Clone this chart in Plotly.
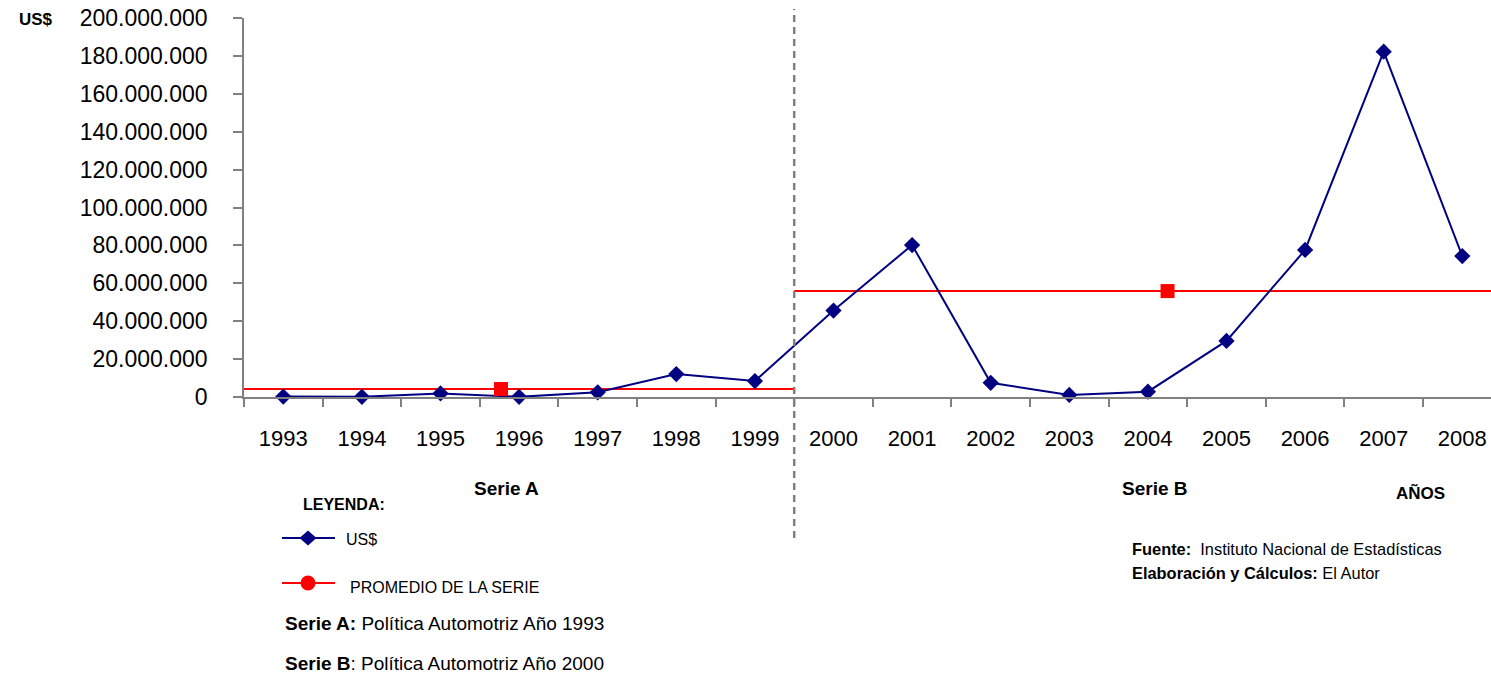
import plotly.graph_objects as go

# Annual values in US$
anios = [1993, 1994, 1995, 1996, 1997, 1998, 1999, 2000,
         2001, 2002, 2003, 2004, 2005, 2006, 2007, 2008]
valores_usd = [200_000, 100_000, 1_900_000, 100_000, 2_500_000, 12_100_000,
               8_400_000, 45_600_000, 80_200_000, 7_500_000, 1_100_000,
               2_800_000, 29_600_000, 77_600_000, 182_200_000, 74_400_000]

# Series averages (Serie A: 1993-1999, Serie B: 2000-2008)
series = ["Serie A", "Serie B"]
serie_inicio = [1993, 2000]
serie_fin = [1999, 2008]
promedio_valores = [4_200_000, 55_900_000]
promedio_marca_anio = [1995.77, 2004.25]

y_ticks = [0, 20_000_000, 40_000_000, 60_000_000, 80_000_000, 100_000_000,
           120_000_000, 140_000_000, 160_000_000, 180_000_000, 200_000_000]

FONT = "Liberation Sans, Arial, sans-serif"
NAVY = "#000080"
RED = "#FF0000"
GRAY = "#808080"

# Figure geometry (pixels)
FIG_W, FIG_H = 1491, 676
L, R, T, B = 244, 0, 18, 279
PW = FIG_W - L - R
PH = FIG_H - T - B
CAT_PX = 78.6  # width of one year on the x axis


def px(x):
    return (x - L) / PW


def py(y):
    return (FIG_H - B - y) / PH


fig = go.Figure()

# Average lines for each series
for ini, fin, val in zip(serie_inicio, serie_fin, promedio_valores):
    fig.add_trace(go.Scatter(
        x=[ini - 0.5, fin + 0.5], y=[val, val], mode="lines",
        line=dict(color=RED, width=2), showlegend=False, hoverinfo="skip"))

# Main series
fig.add_trace(go.Scatter(
    x=anios, y=valores_usd, mode="lines+markers",
    line=dict(color=NAVY, width=2),
    marker=dict(symbol="diamond", size=12.5, color=NAVY),
    cliponaxis=False, showlegend=False, name="US$"))

# Average markers
fig.add_trace(go.Scatter(
    x=promedio_marca_anio, y=promedio_valores, mode="markers",
    marker=dict(symbol="square", size=14, color=RED),
    cliponaxis=False, showlegend=False, name="PROMEDIO DE LA SERIE"))

fig.update_xaxes(
    range=[anios[0] - 0.5, anios[0] - 0.5 + PW / CAT_PX],
    tickmode="array", tickvals=anios, ticktext=[str(a) for a in anios],
    ticks="", ticklabelstandoff=21,
    tickfont=dict(family=FONT, size=22, color="black"),
    showline=True, linecolor=GRAY, linewidth=2,
    showgrid=False, zeroline=False,
    minor=dict(tickmode="array", tickvals=[anios[0] - 0.5] + [a + 0.5 for a in anios[:-1]],
               ticks="outside", ticklen=8, tickwidth=1.5, tickcolor=GRAY),
    fixedrange=True,
)

fig.update_yaxes(
    range=[0, 200_000_000],
    tickmode="array", tickvals=y_ticks, tickformat=",.0f",
    ticks="outside", ticklen=9, tickwidth=1.5, tickcolor=GRAY,
    ticklabelstandoff=21,
    tickfont=dict(family=FONT, size=23, color="black"),
    showline=True, linecolor=GRAY, linewidth=1.5,
    showgrid=False, zeroline=False, fixedrange=True,
)

# Divider between the two series
fig.add_shape(type="line", xref="x", yref="paper",
              x0=serie_fin[0] + 0.5, x1=serie_fin[0] + 0.5,
              y0=py(538), y1=py(9),
              line=dict(color=GRAY, width=2.5, dash="7px,5px"))

# Legend drawing
fig.add_shape(type="line", xref="paper", yref="paper",
              x0=px(282), x1=px(335), y0=py(538), y1=py(538),
              line=dict(color=NAVY, width=2))
dx, dy = 8.5 / PW, 7.5 / PH
cx, cy = px(308), py(538)
fig.add_shape(type="path", xref="paper", yref="paper",
              path=f"M {cx - dx} {cy} L {cx} {cy + dy} L {cx + dx} {cy} L {cx} {cy - dy} Z",
              fillcolor=NAVY, line=dict(color=NAVY, width=0))
fig.add_shape(type="line", xref="paper", yref="paper",
              x0=px(282), x1=px(335), y0=py(583), y1=py(583),
              line=dict(color=RED, width=2))
fig.add_shape(type="circle", xref="paper", yref="paper",
              x0=px(300.5), x1=px(315.5), y0=py(590.5), y1=py(575.5),
              fillcolor=RED, line=dict(color=RED, width=0))


def label(text, x, y, size, anchor="left"):
    fig.add_annotation(text=text, xref="paper", yref="paper",
                       x=px(x), y=py(y), xanchor=anchor, yanchor="middle",
                       showarrow=False,
                       font=dict(family=FONT, size=size, color="black"))


label("<b>US$</b>", 17, 19, 17)
label("<b>Serie A</b>", 506, 488, 19, "center")
label("<b>Serie B</b>", 1154, 488, 19, "center")
label("<b>AÑOS</b>", 1420, 493, 17, "center")
label("<b>LEYENDA:</b>", 301, 504, 16)
label("US$", 344, 539, 16)
label("PROMEDIO DE LA SERIE", 348, 587, 16)
label("<b>Serie A:</b> Política Automotriz Año 1993", 283, 623, 19)
label("<b>Serie B</b>: Política Automotriz Año 2000", 283, 663, 19)
label("<b>Fuente:</b>\u00a0 Instituto Nacional de Estadísticas", 1130, 549, 16.4)
label("<b>Elaboración y Cálculos:</b> El Autor", 1130, 573, 16.4)

fig.update_layout(
    width=FIG_W, height=FIG_H, autosize=False,
    margin=dict(l=L, r=R, t=T, b=B, pad=0),
    paper_bgcolor="white", plot_bgcolor="white",
    separators=",.",
    font=dict(family=FONT, color="black"),
    showlegend=False,
)

fig.write_html("out.html")
